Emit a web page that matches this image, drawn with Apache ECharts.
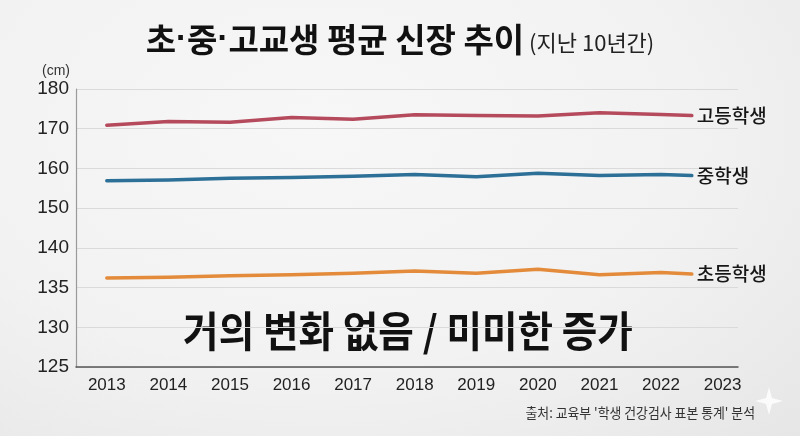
<!DOCTYPE html>
<html>
<head>
<meta charset="utf-8">
<script src="https://cdn.jsdelivr.net/npm/echarts@6/dist/echarts.min.js"></script>
<style>
  html, body { margin: 0; padding: 0; }
  body {
    width: 800px; height: 436px; overflow: hidden;
    background: radial-gradient(ellipse at 40% 30%, #f7f7f7 0%, #f2f2f2 55%, #e6e6e6 100%);
  }
  #main { width: 800px; height: 436px; }
</style>
</head>
<body>
<div id="main"></div>
<script>
// 연도 (마지막 점은 2022와 2023 사이에서 끝남)
var years = [2013, 2014, 2015, 2016, 2017, 2018, 2019, 2020, 2021, 2022, 2022.5];
var xTicks = [2013, 2014, 2015, 2016, 2017, 2018, 2019, 2020, 2021, 2022, 2023];
// 세로축 눈금 (간격이 고르지 않음: 125~140은 5, 140~180은 10)
var yTicks = [125, 130, 135, 140, 150, 160, 170, 180];

var highSchool = [170.9, 171.8, 171.6, 172.8, 172.4, 173.5, 173.3, 173.2, 174.0, 173.6, 173.3];
var middleSchool = [156.9, 157.1, 157.5, 157.7, 158.0, 158.5, 157.9, 158.8, 158.2, 158.5, 158.2];
var elementary = [136.2, 136.3, 136.5, 136.6, 136.8, 137.1, 136.8, 137.3, 136.6, 136.9, 136.7];

var KR = '"Noto Sans CJK KR", "Noto Sans", sans-serif';
var NUM = '"Liberation Sans", Arial, sans-serif';

// cm 값을 눈금 순번 축으로 변환 (눈금 사이는 선형)
function toAxis(v) {
  for (var i = 0; i < yTicks.length - 1; i++) {
    if (v <= yTicks[i + 1]) {
      return i + (v - yTicks[i]) / (yTicks[i + 1] - yTicks[i]);
    }
  }
  return yTicks.length - 1;
}
function pairs(arr) {
  return arr.map(function (v, i) { return [years[i], toAxis(v)]; });
}
function lineSeries(name, arr, color) {
  return {
    name: name,
    type: 'line',
    data: pairs(arr),
    symbol: 'none',
    silent: true,
    lineStyle: { color: color, width: 3.5, cap: 'round', join: 'round' },
    endLabel: {
      show: true,
      formatter: '{a}',
      distance: 5,
      fontFamily: KR,
      fontSize: 19,
      fontWeight: 500,
      color: '#161616'
    }
  };
}

(function () {
  var myChart = echarts.init(document.getElementById('main'));
  var option = {
    backgroundColor: 'transparent',
    animation: false,
    title: {
      left: 'center',
      top: 18,
      text: '{a|초}{d|·}{a|중}{d|·}{a|고교생 평균 신장 추이} {b|(지난 10년간)}',
      textStyle: {
        rich: {
          a: { fontFamily: KR, fontSize: 33, fontWeight: 'bold', color: '#111' },
          d: { fontFamily: NUM, fontSize: 33, fontWeight: 'bold', color: '#111' },
          b: { fontFamily: KR, fontSize: 22, fontWeight: 'normal', color: '#222', padding: [6, 0, 0, 0] }
        }
      }
    },
    grid: { left: 76, right: 62, top: 89, bottom: 69 },
    xAxis: {
      type: 'value',
      min: 2012.5,
      max: 2023.25,
      axisLine: { show: true, lineStyle: { color: '#555', width: 1.5 } },
      axisTick: { show: false },
      splitLine: { show: false },
      axisLabel: {
        customValues: xTicks,
        formatter: function (v) { return String(v); },
        fontFamily: NUM,
        fontSize: 17,
        color: '#222',
        margin: 10
      }
    },
    yAxis: {
      type: 'value',
      min: 0,
      max: 7,
      interval: 1,
      axisLine: { show: true, lineStyle: { color: '#9a9a9a', width: 1.2 } },
      axisTick: { show: false },
      splitLine: { lineStyle: { color: '#dadada', width: 1 } },
      axisLabel: {
        formatter: function (v) { return yTicks[v]; },
        fontFamily: NUM,
        fontSize: 19,
        color: '#222',
        margin: 7
      }
    },
    graphic: [
      {
        type: 'text', x: 70, y: 71,
        style: { text: '(cm)', fontFamily: NUM, fontSize: 14, fill: '#333', align: 'right', verticalAlign: 'middle' }
      },
      {
        type: 'text', x: 408, y: 331, scaleX: 0.92,
        style: { text: '거의 변화 없음 / 미미한 증가', fontFamily: KR, fontSize: 42, fontWeight: 'bold', fill: '#111', align: 'center', verticalAlign: 'middle' }
      },
      {
        type: 'text', x: 755, y: 413, scaleX: 0.92,
        style: { text: "출처: 교육부 '학생 건강검사 표본 통계' 분석", fontFamily: KR, fontSize: 14, fill: '#333', align: 'right', verticalAlign: 'middle' }
      },
      {
        type: 'polygon', x: 769, y: 401,
        shape: { points: [[0, -14], [3, -3], [14, 0], [3, 3], [0, 14], [-3, 3], [-14, 0], [-3, -3]] },
        style: { fill: 'rgba(255,255,255,0.8)' }
      }
    ],
    series: [
      lineSeries('고등학생', highSchool, '#b54a5c'),
      lineSeries('중학생', middleSchool, '#2c6f97'),
      lineSeries('초등학생', elementary, '#e38b3a')
    ]
  };
  myChart.setOption(option);
  window.addEventListener('resize', function () {
    myChart.resize();
  });
})();
</script>
</body>
</html>
